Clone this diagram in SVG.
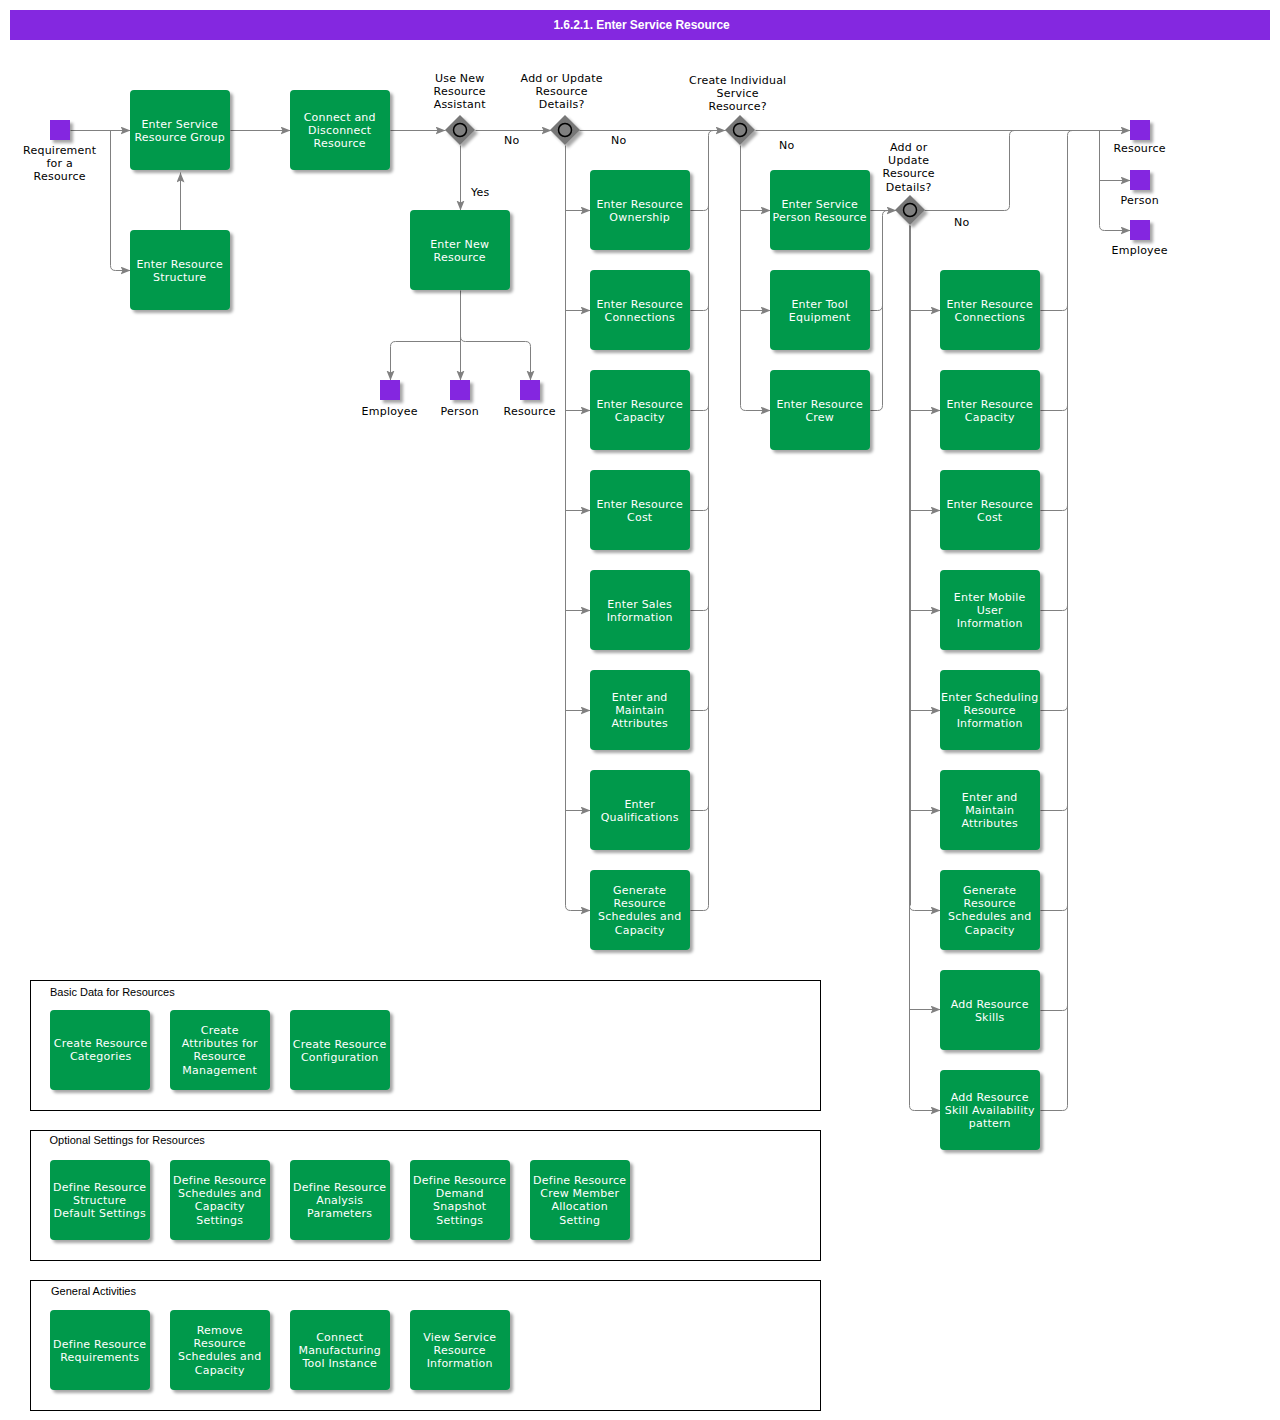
<svg xmlns="http://www.w3.org/2000/svg" width="1280" height="1420" viewBox="0 0 1280 1420">
<style>
text{font-family:"DejaVu Sans",sans-serif;font-size:11px;text-anchor:middle;fill:#000;letter-spacing:.22px;transform:translateX(-.3px)}
.n rect{fill:#00994c;filter:url(#s)}
.n text{fill:#fff}
.e rect{fill:#8428e0;filter:url(#s)}
.g polygon{fill:#777;filter:url(#s)}
.g circle{fill:#808080;stroke:#000;stroke-width:1.5}
.c path{fill:none;stroke:#808080;stroke-width:1}
.c path.a{marker-end:url(#m)}
.c path.t{stroke-width:2}
.b rect{fill:#fff;stroke:#000;stroke-width:1}
.b text{font-family:"Liberation Sans",Arial,sans-serif;text-anchor:start;letter-spacing:0;transform:none}
text.h{font-family:"Liberation Sans",Arial,sans-serif;font-size:12px;font-weight:bold;fill:#fff;letter-spacing:-.06px;transform:none}
</style>
<defs>
<filter id="s" x="-20%" y="-20%" width="150%" height="150%"><feDropShadow dx="3" dy="3" stdDeviation="1.5" flood-color="#000" flood-opacity="0.35"/></filter>
<marker id="m" markerUnits="userSpaceOnUse" markerWidth="11" markerHeight="9" refX="10" refY="4" orient="auto"><path d="M0 0L10 4L0 8L2 4Z" fill="#808080"/></marker>
</defs>
<rect id="title-bar" x="10" y="10" width="1260" height="30" fill="#8428e0"/>
<text class="h" x="641.500" y="29">1.6.2.1. Enter Service Resource</text>

<g class="b" id="group-basic"><rect x="30.5" y="980.5" width="790" height="130"/><text x="50" y="996">Basic Data for Resources</text></g>
<g class="b" id="group-optional"><rect x="30.5" y="1130.5" width="790" height="130"/><text x="49.500" y="1144">Optional Settings for Resources</text></g>
<g class="b" id="group-general"><rect x="30.5" y="1280.500" width="790" height="130"/><text x="51" y="1295">General Activities</text></g>

<g class="c" id="connectors" transform="translate(.5 .5)">
<path class="a" d="M70 130H130"/>
<path class="a" d="M110 130V265Q110 270 115 270H130"/>
<path class="a" d="M180 230V172"/>
<path class="a" d="M230 130H290"/>
<path class="a" d="M390 130H445"/>
<path class="a" d="M475 130H551"/>
<path class="a" d="M460 145V210"/>
<path class="a" d="M460 290V380"/>
<path class="a" d="M460 341H395Q390 341 390 346V380"/>
<path class="a" d="M460 336Q460 341 465 341H525Q530 341 530 346V380"/>
<path class="a" d="M579 130H725"/>
<path class="a" d="M565 145V905Q565 910 570 910H590"/>
<path class="a" d="M565 210H590"/><path class="a" d="M565 310H590"/><path class="a" d="M565 410H590"/><path class="a" d="M565 510H590"/><path class="a" d="M565 610H590"/><path class="a" d="M565 710H590"/><path class="a" d="M565 810H590"/>
<path d="M690 910H703Q708 910 708 905V135Q708 130 713 130H725"/>
<path d="M690 210H703Q708 210 708 205"/><path d="M690 310H703Q708 310 708 305"/><path d="M690 410H703Q708 410 708 405"/><path d="M690 510H703Q708 510 708 505"/><path d="M690 610H703Q708 610 708 605"/><path d="M690 710H703Q708 710 708 705"/><path d="M690 810H703Q708 810 708 805"/>
<path class="a" d="M755 130H1130"/>
<path class="a" d="M740 145V405Q740 410 745 410H770"/>
<path class="a" d="M740 210H770"/><path class="a" d="M740 310H770"/>
<path class="a" d="M870 210H896"/>
<path d="M870 310H877Q882 310 882 305"/>
<path d="M870 410H877Q882 410 882 405V215Q882 210 887 210H896"/>
<path d="M924 210H1004Q1009 210 1009 205V135Q1009 130 1014 130"/>
<path class="t" d="M909.500 225V905"/>
<path class="a" d="M909 225V1105Q909 1110 914 1110H940"/>
<path class="a" d="M909 310H940"/><path class="a" d="M909 410H940"/><path class="a" d="M909 510H940"/><path class="a" d="M909 610H940"/><path class="a" d="M909 710H940"/><path class="a" d="M909 810H940"/>
<path class="a" d="M909 905Q909 910 914 910H940"/>
<path class="a" d="M909 1009H940"/>
<path d="M1040 1110H1062Q1067 1110 1067 1105V135Q1067 130 1072 130"/>
<path d="M1040 310H1062Q1067 310 1067 305"/><path d="M1040 410H1062Q1067 410 1067 405"/><path d="M1040 510H1062Q1067 510 1067 505"/><path d="M1040 610H1062Q1067 610 1067 605"/><path d="M1040 710H1062Q1067 710 1067 705"/><path d="M1040 810H1062Q1067 810 1067 805"/><path d="M1040 910H1062Q1067 910 1067 905"/><path d="M1040 1010H1062Q1067 1010 1067 1005"/>
<path class="a" d="M1099 130V225Q1099 230 1104 230H1130"/>
<path class="a" d="M1099 180H1130"/>
</g>

<g class="e" id="ev-requirement"><rect x="50" y="120" width="20" height="20"/><text x="60" y="154">Requirement</text><text x="60" y="167">for a</text><text x="60" y="180">Resource</text></g>
<g class="e" id="ev-employee-a"><rect x="380" y="380" width="20" height="20"/><text x="390" y="415">Employee</text></g>
<g class="e" id="ev-person-a"><rect x="450" y="380" width="20" height="20"/><text x="460" y="415">Person</text></g>
<g class="e" id="ev-resource-a"><rect x="520" y="380" width="20" height="20"/><text x="530" y="415">Resource</text></g>
<g class="e" id="ev-resource-b"><rect x="1130" y="120" width="20" height="20"/><text x="1140" y="152">Resource</text></g>
<g class="e" id="ev-person-b"><rect x="1130" y="170" width="20" height="20"/><text x="1140" y="204">Person</text></g>
<g class="e" id="ev-employee-b"><rect x="1130" y="220" width="20" height="20"/><text x="1140" y="254">Employee</text></g>

<g class="g" id="gw-assistant"><polygon points="460,115 475,130 460,145 445,130"/><circle cx="460" cy="130" r="6.500"/><text x="460" y="82">Use New</text><text x="460" y="95">Resource</text><text x="460" y="108">Assistant</text></g>
<g class="g" id="gw-add-update-1"><polygon points="565,115 580,130 565,145 550,130"/><circle cx="565" cy="130" r="6.500"/><text x="562" y="82">Add or Update</text><text x="562" y="95">Resource</text><text x="562" y="108">Details?</text></g>
<g class="g" id="gw-individual"><polygon points="740,115 755,130 740,145 725,130"/><circle cx="740" cy="130" r="6.500"/><text x="738" y="84">Create Individual</text><text x="738" y="97">Service</text><text x="738" y="110">Resource?</text></g>
<g class="g" id="gw-add-update-2"><polygon points="910,195 925,210 910,225 895,210"/><circle cx="910" cy="210" r="6.500"/><text x="909" y="151">Add or</text><text x="909" y="164">Update</text><text x="909" y="177">Resource</text><text x="909" y="191">Details?</text></g>

<g id="edge-labels"><text x="512" y="144">No</text><text x="619" y="144">No</text><text x="480.500" y="196">Yes</text><text x="787" y="149">No</text><text x="962" y="226">No</text></g>

<g class="n" id="n1"><rect x="130" y="90" width="100" height="80" rx="4"/><text x="180" y="128">Enter Service</text><text x="180" y="141">Resource Group</text></g>
<g class="n" id="n2"><rect x="130" y="230" width="100" height="80" rx="4"/><text x="180" y="268">Enter Resource</text><text x="180" y="281">Structure</text></g>
<g class="n" id="n3"><rect x="290" y="90" width="100" height="80" rx="4"/><text x="340" y="121">Connect and</text><text x="340" y="134">Disconnect</text><text x="340" y="147">Resource</text></g>
<g class="n" id="n4"><rect x="410" y="210" width="100" height="80" rx="4"/><text x="460" y="248">Enter New</text><text x="460" y="261">Resource</text></g>

<g class="n" id="a1"><rect x="590" y="170" width="100" height="80" rx="4"/><text x="640" y="208">Enter Resource</text><text x="640" y="221">Ownership</text></g>
<g class="n" id="a2"><rect x="590" y="270" width="100" height="80" rx="4"/><text x="640" y="308">Enter Resource</text><text x="640" y="321">Connections</text></g>
<g class="n" id="a3"><rect x="590" y="370" width="100" height="80" rx="4"/><text x="640" y="408">Enter Resource</text><text x="640" y="421">Capacity</text></g>
<g class="n" id="a4"><rect x="590" y="470" width="100" height="80" rx="4"/><text x="640" y="508">Enter Resource</text><text x="640" y="521">Cost</text></g>
<g class="n" id="a5"><rect x="590" y="570" width="100" height="80" rx="4"/><text x="640" y="608">Enter Sales</text><text x="640" y="621">Information</text></g>
<g class="n" id="a6"><rect x="590" y="670" width="100" height="80" rx="4"/><text x="640" y="701">Enter and</text><text x="640" y="714">Maintain</text><text x="640" y="727">Attributes</text></g>
<g class="n" id="a7"><rect x="590" y="770" width="100" height="80" rx="4"/><text x="640" y="808">Enter</text><text x="640" y="821">Qualifications</text></g>
<g class="n" id="a8"><rect x="590" y="870" width="100" height="80" rx="4"/><text x="640" y="894">Generate</text><text x="640" y="907">Resource</text><text x="640" y="920">Schedules and</text><text x="640" y="934">Capacity</text></g>

<g class="n" id="b1"><rect x="770" y="170" width="100" height="80" rx="4"/><text x="820" y="208">Enter Service</text><text x="820" y="221">Person Resource</text></g>
<g class="n" id="b2"><rect x="770" y="270" width="100" height="80" rx="4"/><text x="820" y="308">Enter Tool</text><text x="820" y="321">Equipment</text></g>
<g class="n" id="b3"><rect x="770" y="370" width="100" height="80" rx="4"/><text x="820" y="408">Enter Resource</text><text x="820" y="421">Crew</text></g>

<g class="n" id="c1"><rect x="940" y="270" width="100" height="80" rx="4"/><text x="990" y="308">Enter Resource</text><text x="990" y="321">Connections</text></g>
<g class="n" id="c2"><rect x="940" y="370" width="100" height="80" rx="4"/><text x="990" y="408">Enter Resource</text><text x="990" y="421">Capacity</text></g>
<g class="n" id="c3"><rect x="940" y="470" width="100" height="80" rx="4"/><text x="990" y="508">Enter Resource</text><text x="990" y="521">Cost</text></g>
<g class="n" id="c4"><rect x="940" y="570" width="100" height="80" rx="4"/><text x="990" y="601">Enter Mobile</text><text x="990" y="614">User</text><text x="990" y="627">Information</text></g>
<g class="n" id="c5"><rect x="940" y="670" width="100" height="80" rx="4"/><text x="990" y="701">Enter Scheduling</text><text x="990" y="714">Resource</text><text x="990" y="727">Information</text></g>
<g class="n" id="c6"><rect x="940" y="770" width="100" height="80" rx="4"/><text x="990" y="801">Enter and</text><text x="990" y="814">Maintain</text><text x="990" y="827">Attributes</text></g>
<g class="n" id="c7"><rect x="940" y="870" width="100" height="80" rx="4"/><text x="990" y="894">Generate</text><text x="990" y="907">Resource</text><text x="990" y="920">Schedules and</text><text x="990" y="934">Capacity</text></g>
<g class="n" id="c8"><rect x="940" y="970" width="100" height="80" rx="4"/><text x="990" y="1008">Add Resource</text><text x="990" y="1021">Skills</text></g>
<g class="n" id="c9"><rect x="940" y="1070" width="100" height="80" rx="4"/><text x="990" y="1101">Add Resource</text><text x="990" y="1114">Skill Availability</text><text x="990" y="1127">pattern</text></g>

<g class="n" id="d1"><rect x="50" y="1010" width="100" height="80" rx="4"/><text x="101" y="1047">Create Resource</text><text x="101" y="1060">Categories</text></g>
<g class="n" id="d2"><rect x="170" y="1010" width="100" height="80" rx="4"/><text x="220" y="1034">Create</text><text x="220" y="1047">Attributes for</text><text x="220" y="1060">Resource</text><text x="220" y="1074">Management</text></g>
<g class="n" id="d3"><rect x="290" y="1010" width="100" height="80" rx="4"/><text x="340" y="1048">Create Resource</text><text x="340" y="1061">Configuration</text></g>

<g class="n" id="e1"><rect x="50" y="1160" width="100" height="80" rx="4"/><text x="100" y="1191">Define Resource</text><text x="100" y="1204">Structure</text><text x="100" y="1217">Default Settings</text></g>
<g class="n" id="e2"><rect x="170" y="1160" width="100" height="80" rx="4"/><text x="220" y="1184">Define Resource</text><text x="220" y="1197">Schedules and</text><text x="220" y="1210">Capacity</text><text x="220" y="1224">Settings</text></g>
<g class="n" id="e3"><rect x="290" y="1160" width="100" height="80" rx="4"/><text x="340" y="1191">Define Resource</text><text x="340" y="1204">Analysis</text><text x="340" y="1217">Parameters</text></g>
<g class="n" id="e4"><rect x="410" y="1160" width="100" height="80" rx="4"/><text x="460" y="1184">Define Resource</text><text x="460" y="1197">Demand</text><text x="460" y="1210">Snapshot</text><text x="460" y="1224">Settings</text></g>
<g class="n" id="e5"><rect x="530" y="1160" width="100" height="80" rx="4"/><text x="580" y="1184">Define Resource</text><text x="580" y="1197">Crew Member</text><text x="580" y="1210">Allocation</text><text x="580" y="1224">Setting</text></g>

<g class="n" id="f1"><rect x="50" y="1310" width="100" height="80" rx="4"/><text x="100" y="1348">Define Resource</text><text x="100" y="1361">Requirements</text></g>
<g class="n" id="f2"><rect x="170" y="1310" width="100" height="80" rx="4"/><text x="220" y="1334">Remove</text><text x="220" y="1347">Resource</text><text x="220" y="1360">Schedules and</text><text x="220" y="1374">Capacity</text></g>
<g class="n" id="f3"><rect x="290" y="1310" width="100" height="80" rx="4"/><text x="340" y="1341">Connect</text><text x="340" y="1354">Manufacturing</text><text x="340" y="1367">Tool Instance</text></g>
<g class="n" id="f4"><rect x="410" y="1310" width="100" height="80" rx="4"/><text x="460" y="1341">View Service</text><text x="460" y="1354">Resource</text><text x="460" y="1367">Information</text></g>
</svg>
